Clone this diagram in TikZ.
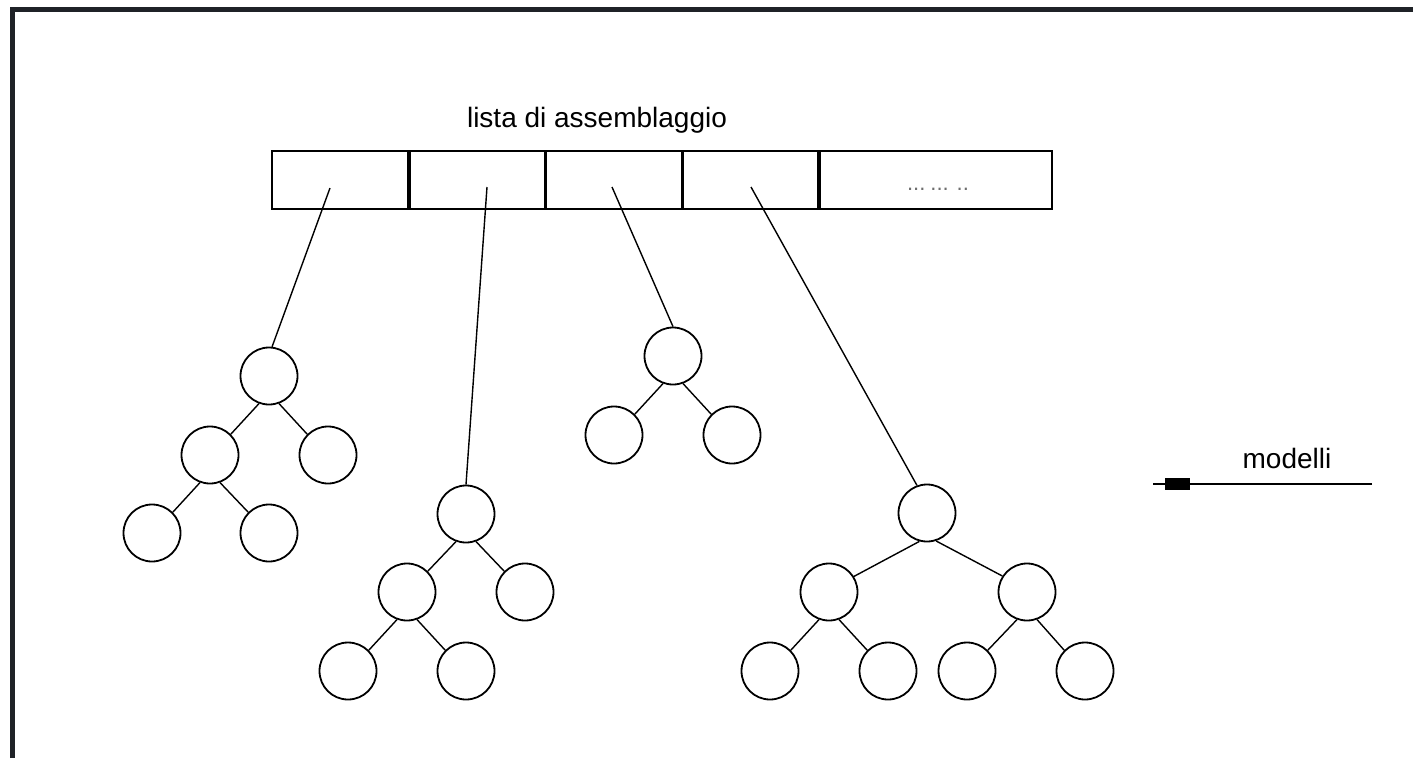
\documentclass[tikz,border=0pt]{standalone}
\usepackage{fontspec}
\setmainfont{Liberation Sans}
\usetikzlibrary{positioning}

\definecolor{framegray}{HTML}{1F2227}
\definecolor{dotgray}{HTML}{6E6E6E}

\tikzset{
  knot/.style={circle, draw, line width=1.8pt, minimum size=57pt, inner sep=0pt, on grid},
  cell/.style={rectangle, draw, line width=1.8pt, minimum height=58pt, inner sep=0pt},
  link/.style={line width=1.4pt},
  label/.style={anchor=base, font=\fontsize{28}{32}\selectfont},
}

\begin{document}
\begin{tikzpicture}[x=1pt, y=-1pt, node distance=79pt and 59pt]
  \path[use as bounding box] (0,0) rectangle (1413,758);
  \draw[framegray, line width=5pt] (12.5,758) -- (12.5,9.5) -- (1413,9.5);

  % assembly list
  \node[label] (title) at (597,127) {lista di assemblaggio};
  \node[cell, minimum width=136pt] (c1) at (339.8,180) {};
  \node[cell, minimum width=135pt, right=0pt of c1] (c2) {};
  \node[cell, minimum width=135pt, right=0pt of c2] (c3) {};
  \node[cell, minimum width=135pt, right=0pt of c3] (c4) {};
  \node[cell, minimum width=232pt, right=0pt of c4] (c5) {};
  \node[anchor=base, text=dotgray, font=\fontsize{22}{26}\selectfont] (dots) at (938,190) {...\kern5pt...\kern8pt..};

  \coordinate (p1) at (330,188);
  \coordinate (p2) at (487,187);
  \coordinate (p3) at (612,187);
  \coordinate (p4) at (751,187);

  % tree 1
  \node[knot] (t1) at (269,376) {};
  \node[knot, below left=of t1] (t1a) {};
  \node[knot, below right=of t1] (t1b) {};
  \node[knot, below left=78pt and 58pt of t1a] (t1aa) {};
  \node[knot, below right=78pt and 59pt of t1a] (t1ab) {};

  % tree 2
  \node[knot] (t2) at (466,514) {};
  \node[knot, below left=78pt and 59pt of t2] (t2a) {};
  \node[knot, below right=78pt and 59pt of t2] (t2b) {};
  \node[knot, below left=of t2a] (t2aa) {};
  \node[knot, below right=of t2a] (t2ab) {};

  % tree 3
  \node[knot] (t3) at (673,356) {};
  \node[knot, below left=of t3] (t3a) {};
  \node[knot, below right=of t3] (t3b) {};

  % tree 4
  \node[knot] (t4) at (927,513) {};
  \node[knot, below left=79pt and 98pt of t4] (t4a) {};
  \node[knot, below right=79pt and 100pt of t4] (t4b) {};
  \node[knot, below left=of t4a] (t4aa) {};
  \node[knot, below right=of t4a] (t4ab) {};
  \node[knot, below left=79pt and 60pt of t4b] (t4ba) {};
  \node[knot, below right=79pt and 58pt of t4b] (t4bb) {};

  \draw[link] (p1) -- (t1.84);
  \draw[link] (p2) -- (t2.north);
  \draw[link] (p3) -- (t3.north);
  \draw[link] (p4) -- (t4.110);

  \draw[link] (t1.-110) -- (t1a.45) (t1.-70) -- (t1b.135)
              (t1a.-110) -- (t1aa.45) (t1a.-70) -- (t1ab.135);
  \draw[link] (t2.-110) -- (t2a.45) (t2.-70) -- (t2b.135)
              (t2a.-110) -- (t2aa.45) (t2a.-70) -- (t2ab.135);
  \draw[link] (t3.-110) -- (t3a.45) (t3.-70) -- (t3b.135);
  \draw[link] (t4.-105) -- (t4a.32) (t4.-72) -- (t4b.147)
              (t4a.-110) -- (t4aa.45) (t4a.-70) -- (t4ab.135)
              (t4b.-110) -- (t4ba.45) (t4b.-70) -- (t4bb.135);

  % models pointer
  \node[label] (models) at (1287,468) {modelli};
  \coordinate (mr) at (1372,484);
  \coordinate (ml) at (1153,484);
  \draw[link] (mr) -- (ml)
    node[pos=0.886, fill, inner sep=0pt, minimum width=25pt, minimum height=12pt] (tip) {};
\end{tikzpicture}
\end{document}
